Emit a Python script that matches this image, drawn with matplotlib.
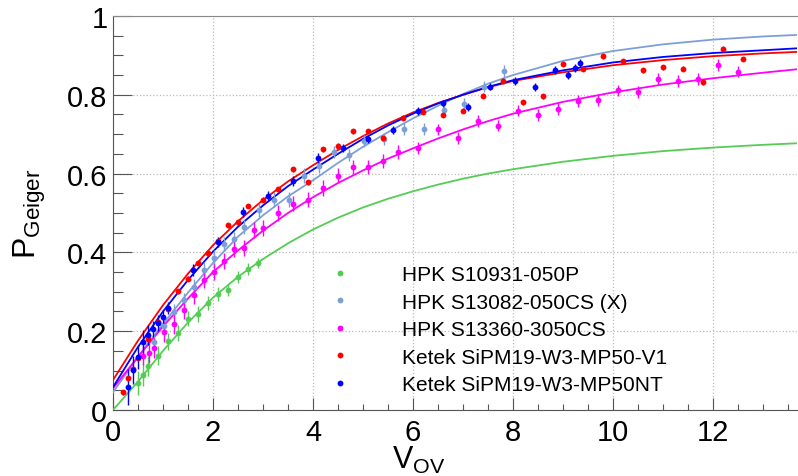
import numpy as np
import matplotlib
matplotlib.use('Agg')
import matplotlib.pyplot as plt
from matplotlib.lines import Line2D

plt.rcParams['font.family'] = ['Liberation Sans', 'DejaVu Sans']
plt.rcParams['mathtext.fontset'] = 'custom'
plt.rcParams['mathtext.rm'] = 'Liberation Sans'
plt.rcParams['mathtext.it'] = 'Liberation Sans:italic'

### measured points
v_green = [0.5, 0.6, 0.7, 0.9, 1.1, 1.3, 1.5, 1.7, 1.9, 2.1, 2.3, 2.5, 2.7, 2.9]
p_green = [0.069, 0.090, 0.111, 0.138, 0.174, 0.195, 0.232, 0.244, 0.271, 0.295, 0.305, 0.338, 0.357, 0.373]
e_green = [0.03, 0.03, 0.025, 0.025, 0.022, 0.02, 0.02, 0.02, 0.018, 0.018, 0.015, 0.015, 0.015, 0.012]

v_lblue = [0.83, 1.03, 1.23, 1.43, 1.63, 1.83, 2.03, 2.23, 2.43, 2.63, 2.93, 3.23, 3.53, 3.83, 4.13,
           4.43, 4.73, 5.03, 5.43, 5.83, 6.23, 6.63, 7.03, 7.43, 7.83]
p_lblue = [0.172, 0.212, 0.248, 0.278, 0.312, 0.356, 0.386, 0.421, 0.433, 0.465, 0.507, 0.534, 0.534, 0.595, 0.620,
           0.654, 0.648, 0.683, 0.688, 0.714, 0.713, 0.762, 0.776, 0.821, 0.860]
e_lblue = [0.02, 0.02, 0.02, 0.02, 0.02, 0.02, 0.02, 0.018, 0.018, 0.018, 0.018, 0.018, 0.018, 0.018, 0.018,
           0.015, 0.015, 0.015, 0.015, 0.015, 0.015, 0.015, 0.015, 0.015, 0.015]

v_mag = [0.6, 0.72, 0.82, 1.02, 1.22, 1.42, 1.62, 1.82, 2.02, 2.22, 2.42, 2.62, 2.82, 3.0, 3.3, 3.6, 3.9, 4.2,
         4.5, 4.8, 5.1, 5.4, 5.7, 6.1, 6.5, 6.9, 7.3, 7.7, 8.1, 8.5, 8.9, 9.3, 9.7, 10.1, 10.5, 10.9, 11.3,
         11.7, 12.1, 12.5]
p_mag = [0.138, 0.145, 0.158, 0.198, 0.219, 0.253, 0.292, 0.331, 0.350, 0.379, 0.409, 0.411, 0.456, 0.461,
         0.500, 0.524, 0.534, 0.564, 0.595, 0.617, 0.616, 0.632, 0.654, 0.664, 0.712, 0.690, 0.733, 0.722,
         0.760, 0.749, 0.763, 0.785, 0.787, 0.811, 0.808, 0.840, 0.835, 0.840, 0.876, 0.859]
e_mag = [0.025, 0.025, 0.025, 0.025, 0.025, 0.022, 0.022, 0.022, 0.02, 0.02, 0.02, 0.02, 0.02, 0.02, 0.02,
         0.02, 0.02, 0.02, 0.018, 0.018, 0.018, 0.018, 0.018, 0.015, 0.015, 0.015, 0.015, 0.015, 0.015,
         0.015, 0.015, 0.015, 0.015, 0.015, 0.015, 0.015, 0.015, 0.015, 0.015, 0.015]

v_red = [0.2, 0.3, 0.4, 0.5, 0.7, 0.9, 1.1, 1.3, 1.5, 1.7, 1.9, 2.1, 2.3, 2.5, 2.7, 3.0, 3.3, 3.6, 3.9, 4.2,
         4.5, 4.8, 5.1, 5.4, 5.8, 6.2, 6.6, 7.0, 7.4, 7.8, 8.2, 8.6, 9.0, 9.4, 9.8, 10.2, 10.6, 11.0, 11.4,
         11.8, 12.2, 12.6]
p_red = [0.045, 0.080, 0.105, 0.133, 0.179, 0.223, 0.257, 0.301, 0.333, 0.373, 0.398, 0.430, 0.469, 0.476,
         0.518, 0.534, 0.560, 0.611, 0.578, 0.662, 0.671, 0.707, 0.708, 0.690, 0.742, 0.756, 0.749, 0.760,
         0.798, 0.836, 0.781, 0.796, 0.878, 0.866, 0.898, 0.885, 0.862, 0.870, 0.866, 0.832, 0.917, 0.891]
e_red = 0.006

v_blue = [0.3, 0.4, 0.5, 0.6, 0.7, 0.8, 0.9, 1.0, 1.1, 1.6, 2.1, 2.6, 3.1, 3.6, 4.1, 4.6, 5.1, 5.6, 6.1,
          6.6, 7.1, 7.55, 8.05, 8.45, 8.85, 9.1, 9.25, 9.35]
p_blue = [0.058, 0.102, 0.134, 0.173, 0.191, 0.206, 0.221, 0.237, 0.258, 0.355, 0.426, 0.503, 0.544, 0.581,
          0.640, 0.664, 0.687, 0.711, 0.759, 0.778, 0.768, 0.821, 0.836, 0.819, 0.862, 0.851, 0.868, 0.880]
e_blue = [0.045, 0.035, 0.03, 0.03, 0.025, 0.02, 0.02, 0.018, 0.015, 0.015, 0.012, 0.012, 0.012, 0.012,
          0.012, 0.01, 0.01, 0.01, 0.01, 0.01, 0.01, 0.01, 0.01, 0.01, 0.01, 0.01, 0.01, 0.01]

### fit curves
v_fit = [0, 0.5, 1, 1.5, 2, 2.5, 3, 3.5, 4, 4.5, 5, 5.5, 6, 6.5, 7, 7.5, 8, 9, 10, 11, 12, 13, 13.7]
f_green = [0.0, 0.072, 0.150, 0.222, 0.285, 0.338, 0.383, 0.423, 0.458, 0.488, 0.514, 0.536, 0.555, 0.572,
           0.587, 0.600, 0.611, 0.630, 0.645, 0.657, 0.666, 0.673, 0.677]
f_lblue = [0.045, 0.135, 0.218, 0.298, 0.373, 0.440, 0.494, 0.542, 0.583, 0.627, 0.668, 0.705, 0.740, 0.772,
           0.802, 0.828, 0.850, 0.886, 0.911, 0.928, 0.940, 0.948, 0.952]
f_mag = [0.055, 0.135, 0.212, 0.283, 0.350, 0.405, 0.455, 0.500, 0.540, 0.576, 0.608, 0.638, 0.664, 0.689,
         0.712, 0.733, 0.752, 0.782, 0.806, 0.826, 0.842, 0.856, 0.865]
f_red = [0.076, 0.176, 0.266, 0.346, 0.418, 0.479, 0.533, 0.580, 0.621, 0.660, 0.695, 0.727, 0.755, 0.779,
         0.800, 0.819, 0.835, 0.857, 0.875, 0.888, 0.898, 0.905, 0.909]
f_blue = [0.058, 0.160, 0.250, 0.330, 0.402, 0.465, 0.519, 0.568, 0.610, 0.650, 0.688, 0.722, 0.752, 0.778,
          0.800, 0.820, 0.837, 0.862, 0.882, 0.896, 0.906, 0.913, 0.918]

labels = ['HPK S10931-050P', 'HPK S13082-050CS (X)', 'HPK S13360-3050CS',
          'Ketek SiPM19-W3-MP50-V1', 'Ketek SiPM19-W3-MP50NT']
colors = ['#55cc55', '#7d9fd8', '#ff00ff', '#ff0000', '#0000ff']

series = [(v_green, p_green, e_green, f_green),
          (v_lblue, p_lblue, e_lblue, f_lblue),
          (v_mag, p_mag, e_mag, f_mag),
          (v_red, p_red, e_red, f_red),
          (v_blue, p_blue, e_blue, f_blue)]

fig = plt.figure(figsize=(7.98, 4.77), dpi=100)
ax = fig.add_axes([0.1416, 0.1384, 0.8570, 0.826])

for (v, p, e, f), c in zip(series, colors):
    ax.plot(v_fit, f, color=c, lw=1.3, zorder=3)
    ax.errorbar(v, p, yerr=e, fmt='o', ms=4.2, color=c, ecolor=c, elinewidth=1.0,
                capsize=0, mew=0, zorder=4)

ax.set_xlim(0, 13.68)
ax.set_ylim(0, 1)
ax.set_xticks(np.arange(0, 13, 2))
ax.set_xticks(np.arange(0, 13.7, 0.5), minor=True)
ax.set_yticks([0, 0.2, 0.4, 0.6, 0.8, 1])
ax.set_yticklabels(['0', '0.2', '0.4', '0.6', '0.8', '1'])
ax.set_yticks(np.arange(0, 1.001, 0.05), minor=True)

ax.grid(True, which='major', color='#bbbbbb', linestyle=':', linewidth=0.9)
ax.tick_params(axis='both', which='both', direction='in', labelsize=21, width=0.8, colors='#555555',
               labelcolor='black')
ax.tick_params(axis='y', which='major', length=14, pad=4)
ax.tick_params(axis='y', which='minor', length=7)
ax.tick_params(axis='x', which='major', length=9, pad=6)
ax.tick_params(axis='x', which='minor', length=4.5)

ax.spines['right'].set_visible(False)
ax.spines['top'].set_color('#888888')
ax.spines['left'].set_color('#555555')
ax.spines['bottom'].set_color('#555555')

ax.set_xlabel(r'V$_{\mathrm{OV}}$', fontsize=22)
ax.xaxis.set_label_coords(0.447, -0.087)
ax.set_ylabel(r'P$_{\mathrm{Geiger}}$', fontsize=23, labelpad=14)

handles = [Line2D([], [], marker='o', ms=4.2, mew=0, color=c, linestyle='none') for c in colors]
ax.legend(handles, labels, loc='upper left', bbox_to_anchor=(0.301, 0.368), frameon=False,
          fontsize=15, handlelength=2.0, handletextpad=2.0, labelspacing=0.41, borderpad=0,
          borderaxespad=0)

fig.savefig('out.png', dpi=100)
